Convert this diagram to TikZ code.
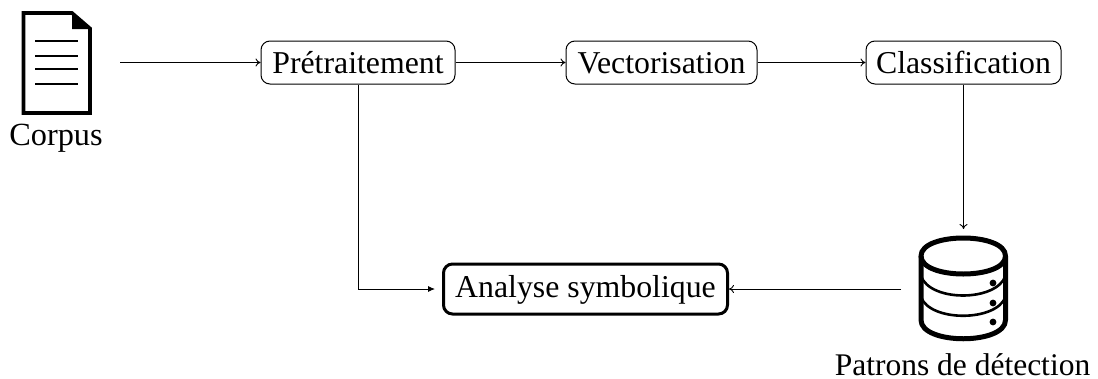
\documentclass[tikz,border=0pt]{standalone}
\usepackage{fontspec}
\setmainfont{Liberation Serif}
\usetikzlibrary{arrows.meta,calc}
\tikzset{
  x=1pt,y=-1pt,
  txt/.style={font=\fontsize{31.8}{36}\selectfont,inner sep=0pt,text=black},
  proc/.style={txt,draw=black,line width=1pt,rounded corners=9pt,text height=26pt,text depth=5pt,minimum height=43pt,anchor=center},
  procb/.style={txt,draw=black,line width=3pt,rounded corners=9pt,text height=22.5pt,text depth=6.5pt,minimum height=50pt,anchor=center},
  conn/.style={draw=black,line width=0.9pt,-{To[length=5pt,width=8pt]}},
  connb/.style={draw=black,line width=0.9pt,-{Latex[length=7pt,width=6pt]}},
  icon/.style={draw=black,line width=3.6pt,line join=round},
  iconthin/.style={draw=black,line width=1.7pt},
}
\begin{document}
\begin{tikzpicture}
\useasboundingbox (0,0) rectangle (1098,378);
% document icon
\draw[icon,line join=miter] (23.5,13) -- (72,13) -- (90,28.5) -- (90,113) -- (23.5,113) -- cycle;
\fill[black] (72,12) -- (91,29) -- (72,29) -- cycle;
\foreach \yy in {41,56,69,84}{\draw[iconthin] (35,\yy) -- (78,\yy);}
\node[txt,anchor=base,font=\fontsize{32.3}{36}\selectfont] (corpus) at (56,145.5) {Corpus};
% database icon
\draw[icon,line width=5pt] (921,256) .. controls (921,232) and (1005.5,232) .. (1005.5,256)
  .. controls (1005.5,280) and (921,280) .. (921,256) -- cycle;
\draw[icon,line width=5pt] (921,256) -- (921,320) .. controls (921,345) and (1005.5,345) .. (1005.5,320) -- (1005.5,256);
\draw[iconthin,line width=2.6pt] (921,276) .. controls (930,302) and (996,302) .. (1005.5,276);
\draw[iconthin,line width=2.6pt] (921,297) .. controls (930,322) and (996,322) .. (1005.5,297);
\fill[black] (993,283) circle (3.4) (993,303) circle (3.4) (993,322) circle (3.4);
\node[txt,anchor=base,font=\fontsize{31.5}{36}\selectfont,text depth=2pt] (patrons) at (962.5,375) {Patrons de détection};
% process nodes
\node[proc,minimum width=194pt] (pre) at (358,62.5) {Prétraitement};
\node[proc,minimum width=191pt] (vec) at (661.5,62.5) {Vectorisation};
\node[proc,minimum width=195pt] (cla) at (963.5,62.5) {Classification};
\node[procb,minimum width=284pt] (ana) at (585.5,289) {Analyse symbolique};
% free ends
\coordinate (docout) at (120,62.5);
\coordinate (dbin) at (963.5,229);
\coordinate (dbout) at (901,289);
\coordinate (anain) at (435,289);
\draw[conn] (docout) -- (pre.west);
\draw[conn] (pre.east) -- (vec.west);
\draw[conn] (vec.east) -- (cla.west);
\draw[conn] (cla.south) -- (dbin);
\draw[conn] (dbout) -- (ana.east);
\draw[connb] (pre.south) |- (anain);
\end{tikzpicture}
\end{document}
